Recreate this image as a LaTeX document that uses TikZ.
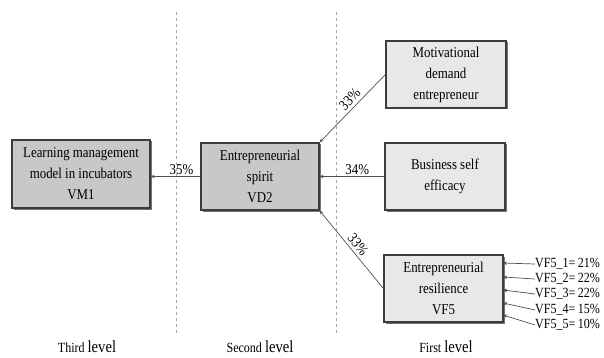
\documentclass[tikz,border=0pt]{standalone}
\usepackage{fontspec}
\setmainfont{Liberation Serif}[FakeStretch=0.86]
\usetikzlibrary{shadows,arrows.meta}
\definecolor{darkbox}{HTML}{C8C8C8}
\definecolor{lightbox}{HTML}{E8E8E8}
\definecolor{edge}{HTML}{3C3C3C}
\definecolor{ln}{HTML}{505050}
\tikzset{
  box/.style={draw=edge, line width=1.2pt, minimum width=#1, align=center,
     inner sep=0pt, font=\fontsize{15}{21}\selectfont,
     drop shadow={shadow xshift=1.5pt, shadow yshift=-1.5pt, fill=black!55, opacity=1}},
  arr/.style={draw=ln, line width=0.7pt, -{Stealth[length=4pt,width=3.5pt]}},
  lbl/.style={font=\fontsize{15}{17}\selectfont, inner sep=1pt},
  vf/.style={font=\fontsize{14}{16}\selectfont, inner sep=0pt, anchor=west},
  sep/.style={draw=gray!70, dashed, line width=0.7pt},
}
\begin{document}
\begin{tikzpicture}[x=1pt,y=-1pt]
\useasboundingbox (0,0) rectangle (604,358);
% separators
\coordinate (s1t) at (176,12); \coordinate (s1b) at (176,334);
\coordinate (s2t) at (336,12); \coordinate (s2b) at (336,334);
\draw[sep] (s1t) -- (s1b);
\draw[sep] (s2t) -- (s2b);
% boxes
\node[box=138pt, minimum height=68pt, fill=darkbox] (vm1) at (81,174) {Learning management\\model in incubators\\VM1};
\node[box=118pt, minimum height=67pt, fill=darkbox] (vd2) at (260,176.5) {Entrepreneurial\\spirit\\VD2};
\node[box=120pt, minimum height=67pt, fill=lightbox] (mot) at (446,74.5) {Motivational\\demand\\entrepreneur};
\node[box=120pt, minimum height=67pt, fill=lightbox] (bus) at (445,176.5) {Business self\\efficacy};
\node[box=119pt, minimum height=67pt, fill=lightbox] (res) at (443.5,288.5) {Entrepreneurial\\resilience\\VF5};
% connectors
\draw[arr] (vd2.west) -- node[lbl, above, pos=0.38] {35\%} (vd2.west -| vm1.east);
\draw[arr] (bus.west) -- node[lbl, above, pos=0.42] {34\%} (bus.west -| vd2.east);
\draw[arr] (mot.west) -- node[lbl, sloped, above=2pt, pos=0.45] {33\%} (vd2.north east);
\draw[arr] (res.west) -- node[lbl, sloped, above=2pt, pos=0.5] {33\%} (vd2.south east);
% VF5 indicators
\node[vf] (f1) at (535,264) {VF5\_1=\,21\%};
\node[vf] (f2) at (535,279) {VF5\_2=\,22\%};
\node[vf] (f3) at (535,294) {VF5\_3=\,22\%};
\node[vf] (f4) at (535,310) {VF5\_4=\,15\%};
\node[vf] (f5) at (535,325) {VF5\_5=\,10\%};
\coordinate (r1) at (503,263);
\coordinate (r2) at (503,277);
\coordinate (r3) at (503,290);
\coordinate (r4) at (503,303);
\coordinate (r5) at (503,315);
\draw[arr] (f1.west) -- (r1);
\draw[arr] (f2.west) -- (r2);
\draw[arr] (f3.west) -- (r3);
\draw[arr] (f4.west) -- (r4);
\draw[arr] (f5.west) -- (r5);
% level labels
\node[inner sep=0pt] (l3) at (87,347) {\fontsize{14}{16}\selectfont Third \fontsize{17}{19}\selectfont level};
\node[inner sep=0pt] (l2) at (260,347) {\fontsize{14}{16}\selectfont Second \fontsize{17}{19}\selectfont level};
\node[inner sep=0pt] (l1) at (446,347) {\fontsize{14}{16}\selectfont First \fontsize{17}{19}\selectfont level};
\end{tikzpicture}
\end{document}
